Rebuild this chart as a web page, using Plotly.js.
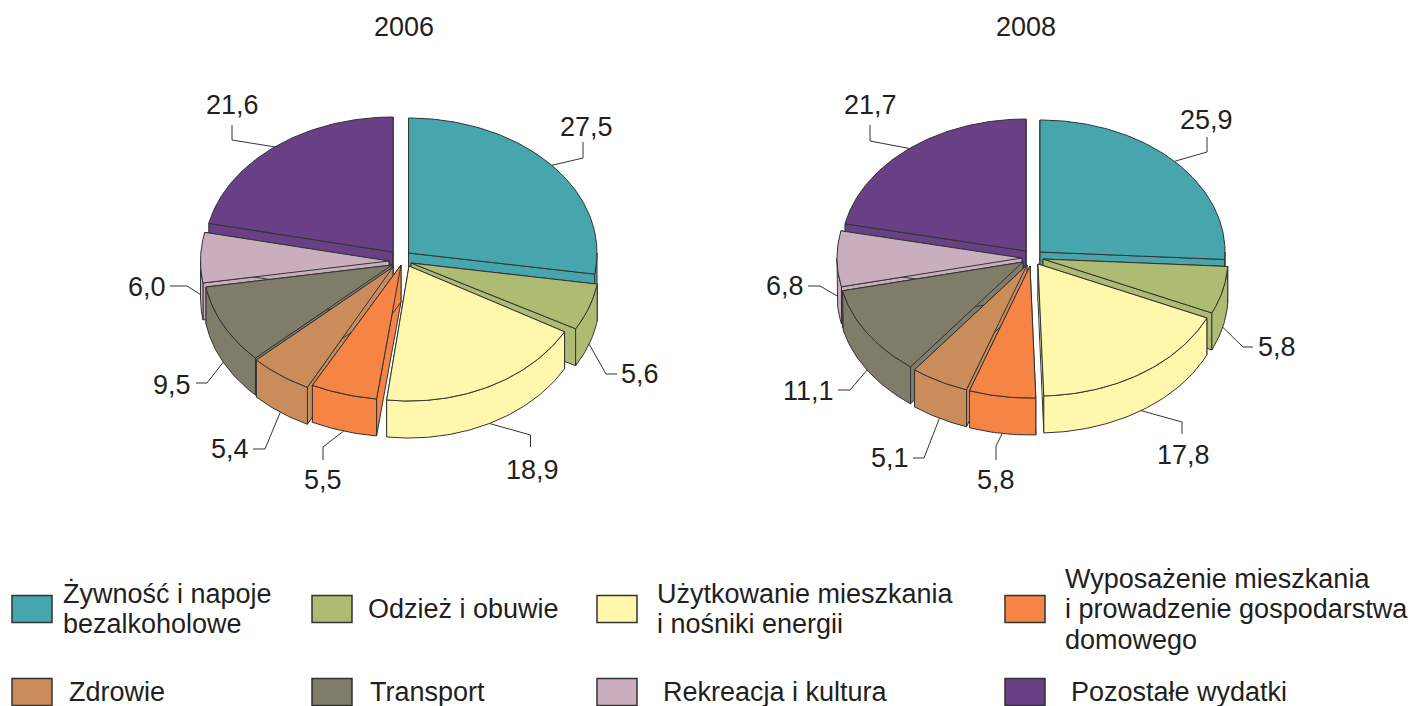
<!DOCTYPE html>
<html><head><meta charset="utf-8">
<script src="https://cdn.plot.ly/plotly-3.0.1.min.js"></script>
<style>html,body{margin:0;padding:0;background:#fff}#c{width:1413px;height:706px}</style>
</head><body><div id="c"></div>
<script>
// ---- data ----
const categories = ["Żywność i napoje bezalkoholowe","Odzież i obuwie","Użytkowanie mieszkania i nośniki energii","Wyposażenie mieszkania i prowadzenie gospodarstwa domowego","Zdrowie","Transport","Rekreacja i kultura","Pozostałe wydatki"];
const values2006 = [27.5,5.6,18.9,5.5,5.4,9.5,6.0,21.6];
const values2008 = [25.9,5.8,17.8,5.8,5.1,11.1,6.8,21.7];
const colors = ["#47A5AE","#AEBB72","#FFF8AC","#F68445","#CB8C5C","#7F7D69","#CBAEBE","#693F86"];
const legendLines = [["Żywność i napoje","bezalkoholowe"],["Odzież i obuwie"],["Użytkowanie mieszkania","i nośniki energii"],["Wyposażenie mieszkania","i prowadzenie gospodarstwa","domowego"],["Zdrowie"],["Transport"],["Rekreacja i kultura"],["Pozostałe wydatki"]];

// ---- layout constants ----
const FONT = "Liberation Sans, Arial, sans-serif", FS = 27, INK = "#231F20", EDGE = "#333333";
const DEPTH = 37;
const pie2006 = {title:"2006", titleX:403.5, values:values2006, cx:396, cy:262, rx:188.5, ry:135,
  pull:[[12.5,-9],[15,1],[13,4],[5,3],[-3,5],[-4,3],[-7,-1],[-3,-10]],
  radiusScale:[1,1,0.945,1.035,1,1,1,1],
  elbow:[[[583,158],[583,142]],[[606,374],[617,374]],[[530.5,435],[530.5,447]],[[323,447],[323,460]],[[265,449],[253,449]],[[207,383],[196,383]],[[187,286],[170,286]],[[232,140],[232,125]]],
  label:[[586,127],[640,374],[532,470],[323,480],[230,449],[172,385],[147,287],[232,105]]};
const pie2008 = {title:"2008", titleX:1026, values:values2008, cx:1030, cy:260, rx:185, ry:132,
  pull:[[10,-8],[13,-1],[8,4],[0,6],[-3,5],[-7,2],[-8,-2],[-4,-9]],
  radiusScale:[1,1,1,1,1,1,1,1],
  elbow:[[[1207,152],[1207,137]],[[1243,347],[1253,347]],[[1182,422],[1182,434]],[[996,446],[996,460]],[[924,458],[913,458]],[[850,390],[838,390]],[[820,286],[808,286]],[[870,141],[870,125]]],
  label:[[1206,120],[1277,347],[1183,455],[996,480],[890,458],[808,391],[785,286],[870,105]]};
const legendX = [12,312,597,1005], legendTextX = [63,368,657,1065], legendTextX2 = [69,370,663,1071];
const legendRowY = [609,692];
const legendLineGap = 30.5;

const traces = [], annotations = [], shapes = [];
const rad = d => d*Math.PI/180;

function poly(xs, ys, color){
  traces.push({type:"scatter",mode:"lines",x:xs,y:ys,fill:"toself",fillcolor:color,
    line:{color:EDGE,width:1,shape:"linear"},hoverinfo:"skip",showlegend:false});
}
function drawPie(p){
  let acc = 0;
  const slices = p.values.map((v,i)=>{
    const a0 = acc*3.6; acc += v; const a1 = acc*3.6;
    return {i,a0,a1,mid:(a0+a1)/2,ax:p.cx+p.pull[i][0],ay:p.cy+p.pull[i][1],rx:p.rx*p.radiusScale[i]};
  });
  const ptX = (s,a)=>s.ax+s.rx*Math.sin(rad(a));
  const ptY = (s,a)=>s.ay-p.ry*Math.cos(rad(a));
  const arc = (a0,a1)=>{const n=Math.max(2,Math.ceil(Math.abs(a1-a0)));const o=[];for(let k=0;k<=n;k++)o.push(a0+(a1-a0)*k/n);return o;};
  // painter's order: far slices first
  [...slices].sort((a,b)=>Math.abs(b.mid-180)-Math.abs(a.mid-180)).forEach(s=>{
    const c = colors[s.i];
    // radial walls
    [s.a0,s.a1].forEach(a=>{
      poly([s.ax,ptX(s,a),ptX(s,a),s.ax,s.ax],[s.ay,ptY(s,a),ptY(s,a)+DEPTH,s.ay+DEPTH,s.ay],c);
    });
    // outer wall (only the part that faces the viewer)
    const w0=Math.max(s.a0,90), w1=Math.min(s.a1,270);
    if(w1>w0){
      const as=arc(w0,w1);
      const xs=as.map(a=>ptX(s,a)), ys=as.map(a=>ptY(s,a));
      poly(xs.concat(xs.slice().reverse(),[xs[0]]), ys.concat(ys.slice().reverse().map(y=>y+DEPTH),[ys[0]]), c);
    }
    // top face
    const as=arc(s.a0,s.a1);
    poly([s.ax].concat(as.map(a=>ptX(s,a)),[s.ax]),[s.ay].concat(as.map(a=>ptY(s,a)),[s.ay]),c);
  });
  // leaders and value labels
  slices.forEach(s=>{
    const front = s.mid>90 && s.mid<280;
    const e = p.elbow[s.i];
    traces.push({type:"scatter",mode:"lines",
      x:[ptX(s,s.mid),e[0][0],e[1][0]],
      y:[ptY(s,s.mid)+(front?DEPTH:0),e[0][1],e[1][1]],
      line:{color:EDGE,width:1},hoverinfo:"skip",showlegend:false});
    annotations.push({x:p.label[s.i][0],y:p.label[s.i][1],xref:"x",yref:"y",showarrow:false,
      text:p.values[s.i].toFixed(1).replace(".",","),font:{family:FONT,size:FS,color:INK}});
  });
  annotations.push({x:p.titleX,y:27,xref:"x",yref:"y",showarrow:false,text:p.title,font:{family:FONT,size:FS,color:INK}});
}
drawPie(pie2006);
drawPie(pie2008);

// legend
categories.forEach((name,i)=>{
  const col=i%4,row=Math.floor(i/4),x=legendX[col],y=legendRowY[row];
  shapes.push({type:"rect",xref:"x",yref:"y",x0:x,x1:x+40,y0:y-13.5,y1:y+13.5,fillcolor:colors[i],line:{color:EDGE,width:1.5}});
  const lines=legendLines[i];
  lines.forEach((t,k)=>{
    annotations.push({x:(row===0?legendTextX[col]:legendTextX2[col])-2,y:y+(k-(lines.length-1)/2)*legendLineGap,xref:"x",yref:"y",xanchor:"left",showarrow:false,
      text:t,font:{family:FONT,size:FS,color:INK}});
  });
});

Plotly.newPlot("c",traces,{
  width:1413,height:706,margin:{l:0,r:0,t:0,b:0},paper_bgcolor:"#fff",plot_bgcolor:"#fff",showlegend:false,
  xaxis:{range:[0,1413],visible:false,fixedrange:true},
  yaxis:{range:[706,0],visible:false,fixedrange:true},
  annotations,shapes
},{displayModeBar:false,staticPlot:true});
</script></body></html>
